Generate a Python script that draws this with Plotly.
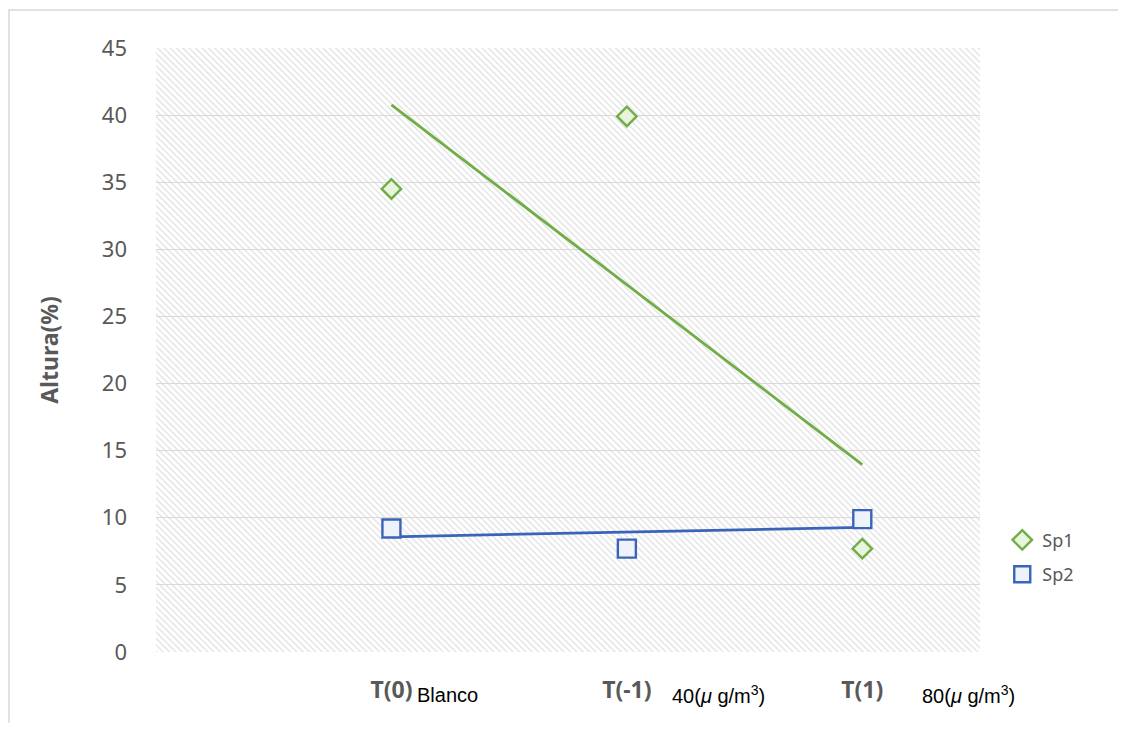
import base64
import numpy as np
import plotly.graph_objects as go

# ---- data ----
categories = ["T(0)", "T(-1)", "T(1)"]
category_suffix = ["Blanco", "40(<i>μ</i> g/m<sup>3</sup>)", "80(<i>μ</i> g/m<sup>3</sup>)"]
x_pos = [1, 2, 3]
sp1 = [34.5, 39.9, 7.7]
sp2 = [9.2, 7.7, 9.9]
y_ticks = [0, 5, 10, 15, 20, 25, 30, 35, 40, 45]

GREEN = "#70ad47"
BLUE = "#3a64b8"
GRAY = "#595959"
FONT = "Noto Sans, Open Sans, sans-serif"

# linear trendlines computed from the data
def trend(y):
    k, b = np.polyfit(x_pos, y, 1)
    return [k * xi + b for xi in x_pos]

fig = go.Figure()

fig.add_trace(go.Scatter(x=x_pos, y=trend(sp1), mode="lines",
                         line=dict(color=GREEN, width=2.8), showlegend=False, hoverinfo="skip"))
fig.add_trace(go.Scatter(x=x_pos, y=trend(sp2), mode="lines",
                         line=dict(color=BLUE, width=2.8), showlegend=False, hoverinfo="skip"))

fig.add_trace(go.Scatter(x=x_pos, y=sp1, mode="markers", name="Sp1", legendgroup="a",
                         marker=dict(symbol="diamond", size=15, color="#e8f4dc",
                                     line=dict(color=GREEN, width=2.4))))
fig.add_trace(go.Scatter(x=x_pos, y=sp2, mode="markers", name="Sp2", legendgroup="b",
                         marker=dict(symbol="square", size=18, color="#eef3fb",
                                     line=dict(color=BLUE, width=2.4))))

# hatch background as svg image
svg = ("<svg xmlns='http://www.w3.org/2000/svg' width='824' height='604'>"
       "<defs><pattern id='p' width='4.5' height='4.5' patternUnits='userSpaceOnUse' "
       "patternTransform='rotate(-45)'>"
       "<rect width='4.5' height='4.5' fill='#ffffff'/>"
       "<line x1='1' y1='0' x2='1' y2='4.5' stroke='#e0e0e0' stroke-width='1.3'/>"
       "</pattern></defs><rect width='100%' height='100%' fill='url(#p)'/></svg>")
src = "data:image/svg+xml;base64," + base64.b64encode(svg.encode()).decode()
fig.add_layout_image(dict(source=src, xref="x domain", yref="y domain", x=0, y=1,
                          sizex=1, sizey=1, sizing="stretch", xanchor="left",
                          yanchor="top", layer="below"))

# category suffix text next to tick labels
suffix_offset = [0.100, 0.183, 0.245]
for xi, s, off in zip(x_pos, category_suffix, suffix_offset):
    fig.add_annotation(x=xi + off, y=-0.071, xref="x", yref="paper", text=s,
                       showarrow=False, xanchor="left", yanchor="middle",
                       font=dict(family="Arial, Liberation Sans", size=20, color="#000000"))

# outer frame
fig.add_shape(type="rect", xref="paper", yref="paper",
              x0=(1 - 148) / 824, x1=(1130 - 148) / 824,
              y0=(644 - 740) / 604, y1=(644 - 2) / 604,
              line=dict(color="#d9d9d9", width=1.5), layer="below")

fig.update_layout(
    width=1110, height=715,
    margin=dict(l=148, r=138, t=40, b=71),
    paper_bgcolor="white",
    plot_bgcolor="rgba(0,0,0,0)",
    font=dict(family=FONT, color=GRAY, size=18),
    legend=dict(x=1.027, y=0.157, xanchor="left", yanchor="middle",
                font=dict(size=18, color=GRAY, family=FONT),
                bgcolor="rgba(0,0,0,0)", traceorder="grouped", tracegroupgap=8),
    showlegend=True,
)
fig.update_xaxes(range=[0, 3.5], tickvals=x_pos,
                 ticktext=["<b>" + c + "</b>" for c in categories],
                 showgrid=False, zeroline=False, showline=False,
                 ticklabelstandoff=22,
                 tickfont=dict(size=23, color=GRAY, family=FONT))
fig.update_yaxes(range=[0, 45], tickvals=y_ticks, showgrid=True,
                 gridcolor="#d9d9d9", gridwidth=1, zeroline=False,
                 ticklabelstandoff=28,
                 tickfont=dict(size=22, color=GRAY, family=FONT))
fig.update_yaxes(title=dict(text="<b>Altura(%)</b>", standoff=36,
                            font=dict(size=23, color=GRAY, family=FONT)))

fig.write_html("out.html")
